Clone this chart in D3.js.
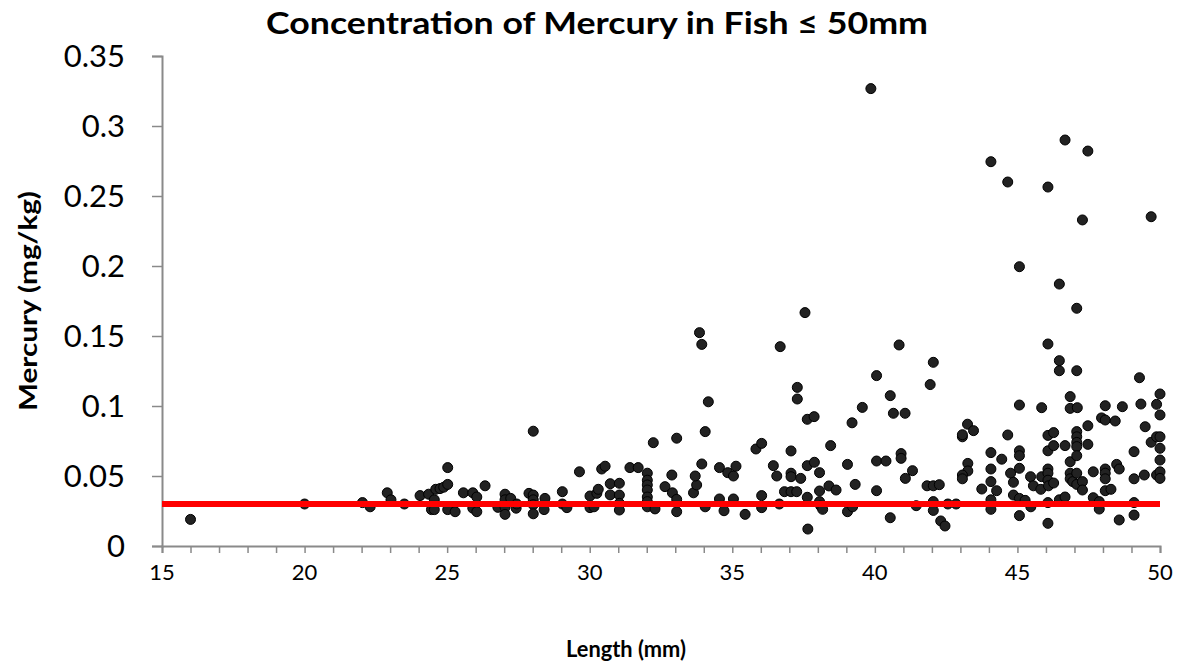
<!DOCTYPE html>
<html>
<head>
<meta charset="utf-8">
<script src="https://cdn.jsdelivr.net/npm/d3@7"></script>
<style>
  html, body { margin: 0; padding: 0; background: #fff; }
  svg { display: block; }
  text { font-family: Lato, "Open Sans", "Liberation Sans", sans-serif; fill: #000; }
</style>
</head>
<body>
<svg id="chart" width="1182" height="664"></svg>
<script>
const titleText = "Concentration of Mercury in Fish ≤ 50mm";
const xTitle = "Length (mm)";
const yTitle = "Mercury  (mg/kg)";
const xTickValues = [15, 20, 25, 30, 35, 40, 45, 50];
const yTickValues = [0, 0.05, 0.1, 0.15, 0.2, 0.25, 0.3, 0.35];
const threshold = 0.03;

const lengths = [
  16.0, 20.0, 22.03, 22.3, 22.9, 23.03, 23.5, 24.05, 24.35, 24.45, 24.55, 24.55, 24.6, 24.75, 24.88,
  25.02, 25.02, 25.02, 25.28, 25.57, 25.9, 26.04, 25.9, 26.04, 26.33, 26.78, 27.03, 27.03, 27.03, 27.03,
  27.23, 27.42, 27.44, 27.87, 28.02, 28.02, 28.02, 28.02, 28.02, 28.43, 28.4, 29.04, 29.04, 29.2, 29.64,
  30.01, 30.01, 30.15, 30.25, 30.3, 30.42, 30.54, 30.72, 30.72, 31.04, 31.04, 31.04, 31.04, 31.41, 31.7,
  32.02, 32.02, 32.02, 32.02, 32.02, 32.02, 32.02, 32.29, 32.23, 32.64, 32.88, 32.9, 33.05, 33.05, 33.05,
  33.64, 33.75, 33.7, 33.93, 33.85, 33.93, 34.16, 34.05, 34.05, 34.55, 34.55, 34.71, 34.84, 35.04, 35.13,
  35.04, 35.45, 35.83, 36.03, 36.03, 36.03, 36.44, 36.56, 36.65, 36.68, 36.83, 37.06, 37.26, 37.06, 37.06,
  37.06, 37.4, 37.28, 37.28, 37.55, 37.63, 37.87, 37.63, 37.88, 37.63, 37.65, 38.06, 38.06, 38.06, 38.1,
  38.17, 38.39, 38.64, 38.45, 39.04, 39.04, 39.22, 39.2, 39.31, 39.56, 39.86, 40.06, 40.06, 40.39, 40.06,
  40.54, 40.54, 40.65, 41.06, 40.85, 40.92, 40.92, 41.32, 41.07, 41.45, 41.83, 42.05, 42.26, 42.05, 42.05,
  42.31, 42.46, 42.56, 42.85, 41.94, 42.05, 43.07, 43.07, 43.25, 43.46, 43.26, 43.26, 43.07, 43.07, 43.75,
  44.07, 44.07, 44.07, 44.07, 44.07, 44.07, 44.27, 44.45, 44.66, 44.66, 44.76, 44.86, 44.86,
  45.07, 45.07, 45.07, 45.07, 45.07, 45.07, 45.07, 45.27, 45.46, 45.47, 45.56, 45.82, 45.85, 45.85,
  46.07, 46.07, 46.07, 46.07, 46.07, 46.07, 46.07, 46.09, 46.07, 46.07, 46.27, 46.27, 46.27,
  46.47, 46.47, 46.47, 46.47, 46.67, 46.67, 46.67, 46.85, 46.85, 46.85, 46.85, 46.85, 46.94,
  47.08, 47.08, 47.1, 47.08, 47.08, 47.08, 47.08, 47.08, 47.08, 47.08, 47.28, 47.28, 47.28,
  47.47, 47.47, 47.47, 47.66, 47.66, 47.87, 47.87, 47.95, 48.08, 48.08, 48.43, 48.68, 48.08, 48.08, 48.08,
  48.08, 48.28, 48.48, 48.57, 48.57, 49.09, 49.09, 49.09, 49.09, 49.28, 49.33, 49.45, 49.48, 49.69, 49.69,
  49.88, 49.88, 49.88, 50.0, 50.0, 50.0, 50.0, 50.0, 50.0, 50.0
];
const mercury = [
  0.019, 0.030, 0.031, 0.028, 0.038, 0.033, 0.030, 0.036, 0.037, 0.026, 0.026, 0.033, 0.0405, 0.041, 0.042,
  0.044, 0.056, 0.026, 0.0245, 0.038, 0.038, 0.035, 0.027, 0.0245, 0.043, 0.0276, 0.037, 0.033, 0.0276, 0.0226,
  0.034, 0.027, 0.030, 0.0376, 0.0364, 0.082, 0.033, 0.0295, 0.023, 0.034, 0.026, 0.0388, 0.030, 0.0274, 0.053,
  0.0357, 0.0274, 0.028, 0.0376, 0.0405, 0.055, 0.057, 0.0445, 0.0365, 0.0448, 0.0364, 0.0305, 0.0257, 0.056, 0.056,
  0.052, 0.047, 0.0436, 0.040, 0.035, 0.0317, 0.028, 0.0265, 0.0738, 0.0424, 0.0507, 0.038, 0.0333, 0.0245, 0.077,
  0.038, 0.0436, 0.050, 0.0586, 0.1524, 0.144, 0.103, 0.0817, 0.028, 0.056, 0.0336, 0.0252, 0.0524, 0.050, 0.057,
  0.0336, 0.0226, 0.0693, 0.0733, 0.036, 0.0274, 0.0574, 0.050, 0.030, 0.1424, 0.0388, 0.0388, 0.0388, 0.0679, 0.052,
  0.0495, 0.0483, 0.1133, 0.105, 0.1667, 0.0905, 0.0924, 0.0574, 0.0598, 0.0348, 0.0121, 0.0524, 0.0393, 0.0317, 0.0286,
  0.0262, 0.0429, 0.040, 0.0717, 0.0583, 0.0245, 0.028, 0.088, 0.044, 0.099, 0.3267, 0.1217, 0.0607, 0.0607, 0.0395,
  0.0202, 0.1074, 0.0948, 0.0948, 0.1436, 0.066, 0.0626, 0.0538, 0.0483, 0.0288, 0.043, 0.043, 0.0438, 0.0317, 0.0254,
  0.0179, 0.0143, 0.030, 0.030, 0.1153, 0.1312, 0.078, 0.0795, 0.087, 0.0824, 0.059, 0.0536, 0.0507, 0.048, 0.0407,
  0.2745, 0.0667, 0.055, 0.046, 0.033, 0.0262, 0.0395, 0.062, 0.26, 0.0793, 0.052, 0.0455, 0.0364,
  0.1995, 0.1007, 0.068, 0.0645, 0.0555, 0.034, 0.0217, 0.0326, 0.0495, 0.028, 0.043, 0.0405, 0.0988, 0.0495,
  0.2564, 0.1443, 0.079, 0.068, 0.055, 0.052, 0.047, 0.043, 0.031, 0.0162, 0.081, 0.0717, 0.045,
  0.1871, 0.1324, 0.1252, 0.033, 0.29, 0.0717, 0.035, 0.1067, 0.0983, 0.0602, 0.052, 0.048, 0.046,
  0.1698, 0.1252, 0.0988, 0.0817, 0.078, 0.074, 0.071, 0.0645, 0.052, 0.044, 0.2329, 0.046, 0.040,
  0.2821, 0.0859, 0.0726, 0.053, 0.0345, 0.0317, 0.0264, 0.0915, 0.1002, 0.090, 0.0893, 0.0995, 0.055, 0.052, 0.048,
  0.0395, 0.0405, 0.0583, 0.055, 0.0186, 0.0674, 0.048, 0.031, 0.0221, 0.1202, 0.1014, 0.0507, 0.0852, 0.2352, 0.0741,
  0.1012, 0.078, 0.0507, 0.1086, 0.0936, 0.078, 0.0698, 0.0614, 0.053, 0.0483
];

(function () {
  const points = lengths.map((l, i) => ({ x: l, y: mercury[i] }));

  const svg = d3.select("#chart");
  const mLeft = 162, mRight = 1160, mTop = 56, mBottom = 546;

  const x = d3.scaleLinear().domain([15, 50]).range([mLeft, mRight]);
  const y = d3.scaleLinear().domain([0, 0.35]).range([mBottom, mTop]);

  const axisColor = "#8a8a8a";

  // X axis with minor ticks every 1mm
  const xAxis = svg.append("g").attr("transform", `translate(0,${mBottom})`)
    .call(d3.axisBottom(x).tickValues(d3.range(15, 51, 1)).tickSize(7).tickFormat(""));
  xAxis.select(".domain").attr("stroke", axisColor).attr("stroke-width", 2);
  xAxis.selectAll(".tick line").attr("stroke", axisColor).attr("stroke-width", 1.5);

  svg.append("g").selectAll("text").data(xTickValues).enter().append("text")
    .attr("x", d => x(d)).attr("y", mBottom + 34)
    .attr("text-anchor", "middle").attr("font-size", 22)
    .text(d => d);

  // Y axis
  const yAxis = svg.append("g").attr("transform", `translate(${mLeft},0)`)
    .call(d3.axisLeft(y).tickValues(yTickValues).tickSize(10).tickFormat(""));
  yAxis.select(".domain").attr("stroke", axisColor).attr("stroke-width", 2);
  yAxis.selectAll(".tick line").attr("stroke", axisColor).attr("stroke-width", 1.5);

  svg.append("g").selectAll("text").data(yTickValues).enter().append("text")
    .attr("x", 125).attr("y", d => y(d))
    .attr("dy", "0.36em")
    .attr("text-anchor", "end").attr("font-size", 31)
    .text(d => String(+d.toFixed(2)));

  // Points
  svg.append("g").selectAll("circle").data(points).enter().append("circle")
    .attr("cx", d => x(d.x)).attr("cy", d => y(d.y)).attr("r", 5)
    .attr("fill", "#222").attr("stroke", "#000").attr("stroke-width", 1);

  // Threshold line
  svg.append("line")
    .attr("x1", x(15)).attr("x2", x(50))
    .attr("y1", y(threshold)).attr("y2", y(threshold))
    .attr("stroke", "#ff0000").attr("stroke-width", 6);

  // Titles
  svg.append("text").attr("x", 597).attr("y", 34)
    .attr("text-anchor", "middle").attr("font-size", 31).attr("font-weight", "bold")
    .attr("textLength", 662).attr("lengthAdjust", "spacingAndGlyphs")
    .text(titleText);

  svg.append("text").attr("x", 626).attr("y", 657)
    .attr("text-anchor", "middle").attr("font-size", 23).attr("font-weight", "bold")
    .attr("textLength", 120).attr("lengthAdjust", "spacingAndGlyphs")
    .text(xTitle);

  svg.append("text").attr("transform", "translate(37,301) rotate(-90)")
    .attr("text-anchor", "middle").attr("font-size", 24).attr("font-weight", "bold")
    .attr("textLength", 220).attr("lengthAdjust", "spacingAndGlyphs")
    .text(yTitle);
})();
</script>
</body>
</html>
